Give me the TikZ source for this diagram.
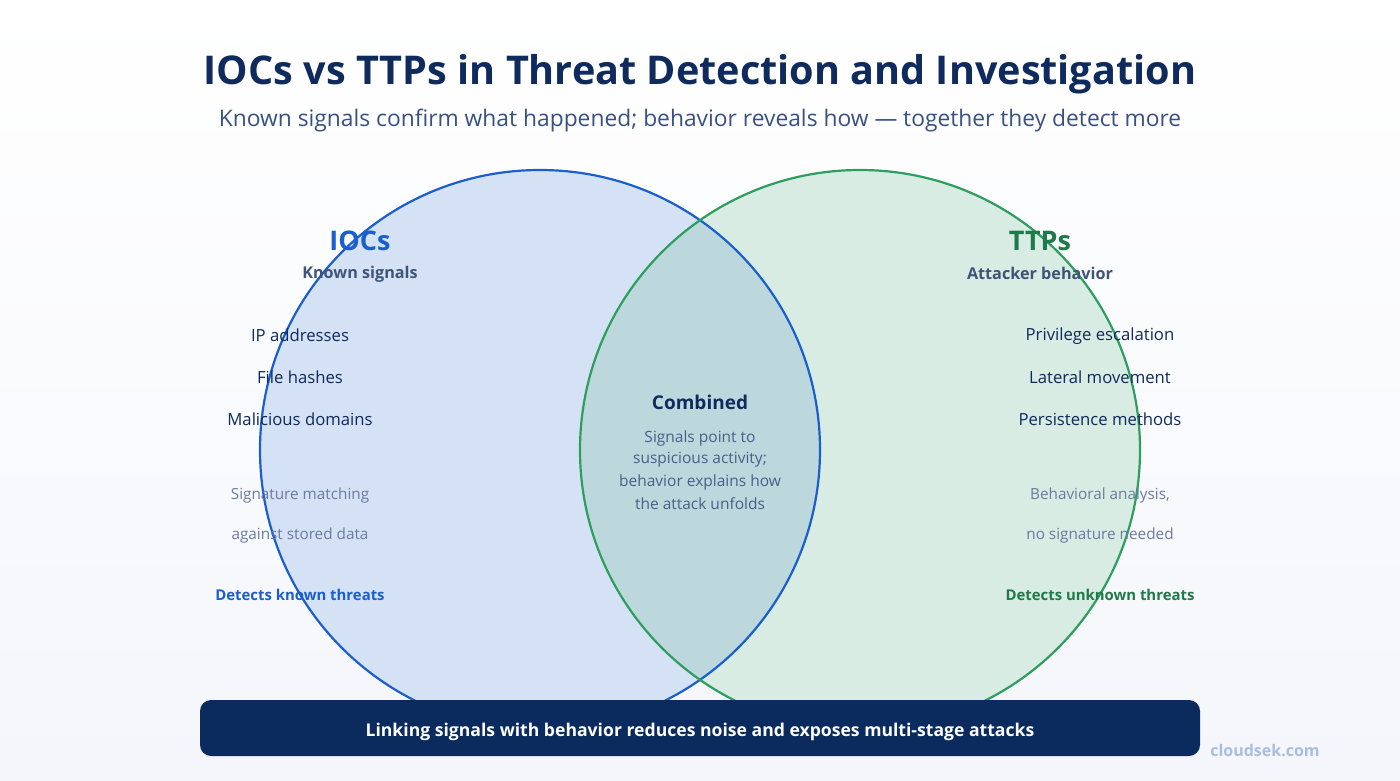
\documentclass[tikz,border=0pt]{standalone}
\usepackage{fontspec}
\setmainfont{Open Sans}
\definecolor{navy}{HTML}{0F2A5C}
\definecolor{subc}{HTML}{3B5082}
\definecolor{iocblue}{HTML}{1A5FCC}
\definecolor{ttpgreen}{HTML}{1E7A48}
\definecolor{lfill}{HTML}{D5E1F5}
\definecolor{rfill}{HTML}{D8ECE3}
\definecolor{ofill}{HTML}{BCD8DC}
\definecolor{lstroke}{HTML}{1A5FCC}
\definecolor{rstroke}{HTML}{2E9E5E}
\definecolor{graytxt}{HTML}{6B7BA0}
\definecolor{headgray}{HTML}{3E5478}
\definecolor{midtxt}{HTML}{4A5F8A}
\definecolor{bannerc}{HTML}{0B2A5E}
\definecolor{brand}{HTML}{A8BDE0}
\definecolor{bgbot}{HTML}{F4F6FB}
\tikzset{
  heading/.style={font=\fontsize{27}{31}\selectfont\bfseries},
  subhead/.style={font=\fontsize{16.2}{19}\selectfont\bfseries, text=headgray},
  item/.style={font=\fontsize{16.7}{19}\selectfont, text=navy},
  note/.style={font=\fontsize{15.3}{18}\selectfont, text=graytxt},
  detect/.style={font=\fontsize{14.9}{18}\selectfont\bfseries},
  midline/.style={font=\fontsize{15.5}{18}\selectfont, text=midtxt},
}
\begin{document}
\begin{tikzpicture}[x=1pt,y=-1pt]
\useasboundingbox (0,0) rectangle (1400,780);
\shade[top color=white, bottom color=bgbot] (0,0) rectangle (1400,780);
% circles
\fill[lfill] (540,450) circle (280);
\fill[rfill] (860,450) circle (280);
\begin{scope}
  \clip (540,450) circle (280);
  \fill[ofill] (860,450) circle (280);
\end{scope}
\draw[lstroke, line width=2.2pt] (540,450) circle (280);
\draw[rstroke, line width=2.2pt] (860,450) circle (280);
% title
\node[font=\fontsize{39.6}{46}\selectfont\bfseries, text=navy] (title) at (700,74) {IOCs vs TTPs in Threat Detection and Investigation};
\node[font=\fontsize{22.8}{27}\selectfont, text=subc] (subtitle) at (700,121) {Known signals confirm what happened; behavior reveals how — together they detect more};
% left
\node[heading, text=iocblue] (ioc) at (360,241) {IOCs};
\node[subhead] (iocsub) at (360,274) {Known signals};
\node[item] (ip) at (300,335) {IP addresses};
\node[item] (fh) at (300,377) {File hashes};
\node[item] (md) at (300,419) {Malicious domains};
\node[note] (sm1) at (300,496) {Signature matching};
\node[note] (sm2) at (300,536) {against stored data};
\node[detect, text=iocblue] (dk) at (300,595) {Detects known threats};
% right
\node[heading, text=ttpgreen] (ttp) at (1040,241) {TTPs};
\node[subhead] (ttpsub) at (1040,273) {Attacker behavior};
\node[item] (pe) at (1100,336) {Privilege escalation};
\node[item] (lm) at (1100,377) {Lateral movement};
\node[item] (pm) at (1100,419) {Persistence methods};
\node[note] (ba1) at (1100,496) {Behavioral analysis,};
\node[note] (ba2) at (1100,536) {no signature needed};
\node[detect, text=ttpgreen] (du) at (1100,595) {Detects unknown threats};
% middle
\node[font=\fontsize{19}{23}\selectfont\bfseries, text=navy] (comb) at (700,402) {Combined};
\node[midline] (c1) at (700,438.5) {Signals point to};
\node[midline] (c2) at (700,460) {suspicious activity;};
\node[midline] (c3) at (700,482) {behavior explains how};
\node[midline] (c4) at (700,503.5) {the attack unfolds};
% banner
\fill[bannerc, rounded corners=11pt] (200,700) rectangle (1200,756);
\node[font=\fontsize{17.6}{21}\selectfont\bfseries, text=white] (banner) at (700,731.5) {Linking signals with behavior reduces noise and exposes multi-stage attacks};
\node[font=\fontsize{16}{19}\selectfont\bfseries, text=brand] (brandtxt) at (1265,751) {cloudsek.com};
\end{tikzpicture}
\end{document}
